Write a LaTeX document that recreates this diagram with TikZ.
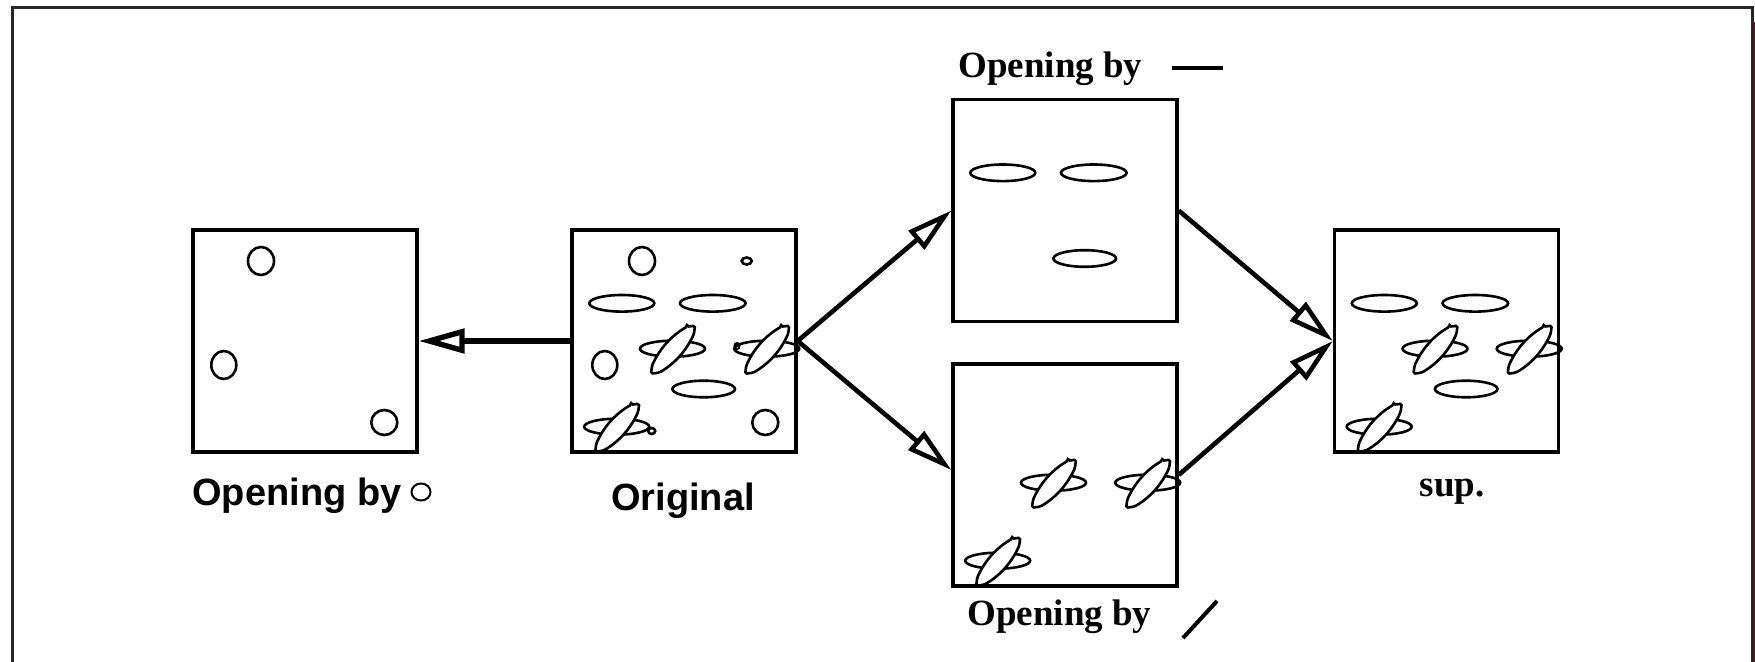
\documentclass[tikz,border=0pt]{standalone}
\usepackage{fontspec}
\setmainfont{Liberation Serif}
\setsansfont{Liberation Sans}
\usetikzlibrary{arrows.meta}

% round grains of the source image
\newcommand\roundgrains{%
  \draw[grain] (642,261) ellipse [x radius=13, y radius=14];
  \draw[grain] (604.8,365) ellipse [x radius=12.5, y radius=14];
  \draw[grain] (765.3,422.5) ellipse [x radius=13, y radius=12.5];}
% flat horizontal grains
\newcommand\flatgrains{%
  \draw[grain] (621.8,303.3) ellipse [x radius=32.5, y radius=8.3];
  \draw[grain] (712.8,303.3) ellipse [x radius=32.8, y radius=8.3];
  \draw[grain] (703.7,389) ellipse [x radius=31.3, y radius=8.3];}
% a flat grain crossed by a slanted needle, centred at (#1,#2)
\newcommand\needlegrain[2]{%
  \draw[grain] (#1,#2) ellipse [x radius=32.5, y radius=8];
  \begin{scope}[shift={(#1+0.5,#2+1)}]
    \draw[needle] (14,-23) -- (22,-24) -- (21,-16)
      .. controls (13.3,1) and (1.7,14) .. (-14,23) -- (-22,24) -- (-21,16)
      .. controls (-13.3,-1) and (-1.7,-14) .. (14,-23) -- cycle;
  \end{scope}}
\newcommand\crossgrains{%
  \needlegrain{672.5}{348.7}\needlegrain{766.7}{348.7}\needlegrain{616.7}{426.7}}

\begin{document}
\begin{tikzpicture}[x=0.5pt,y=-0.5pt,
  panel/.style={draw, line width=1.65pt, minimum width=112pt,
    minimum height=111pt, inner sep=0pt},
  grain/.style={draw, line width=1.3pt},
  needle/.style={draw, fill=white, line width=1.3pt, rounded corners=0.8pt},
  flow/.style={line width=2.3pt,
    -{Triangle[length=23pt, width=12pt, fill=white]}},
  sanslab/.style={font=\sffamily\bfseries\fontsize{19}{22}\selectfont,
    inner sep=0pt},
  seriflab/.style={font=\rmfamily\bfseries\fontsize{18.5}{22}\selectfont,
    inner sep=0pt}]
\useasboundingbox (0,0) rectangle (1755,662);

% outer frame
\draw[line width=1.5pt, black!85] (12,680) -- (12,8) -- (1752,8) -- (1752,680);
\draw[line width=0.8pt, color={rgb,255:red,150;green,0;blue,30}]
  (1754.4,22) -- (1754.4,662);

% panels
\node[panel] (b1) at (305,341) {};
\node[panel] (b2) at (684,341) {};
\node[panel] (b3) at (1065,210.5) {};
\node[panel] (b4) at (1065,475) {};
\node[panel] (b5) at (1446.5,341) {};

% contents: opening by a disc
\begin{scope}[shift={(-381,0)}]
  \roundgrains
\end{scope}
% contents: original image
\roundgrains
\flatgrains
\crossgrains
\draw[grain] (746.7,261) ellipse [x radius=5, y radius=3.5];
\draw[grain] (651.7,431) ellipse [x radius=3.5, y radius=3];
\draw[grain, line width=1pt] (737,346) ellipse [x radius=2.5, y radius=3];
% contents: opening by a horizontal segment
\begin{scope}[shift={(381,-130.5)}]
  \flatgrains
\end{scope}
% contents: opening by a slanted segment
\begin{scope}[shift={(381,134)}]
  \crossgrains
\end{scope}
% contents: supremum
\begin{scope}[shift={(762.5,0)}]
  \flatgrains
  \crossgrains
\end{scope}

% labels
\node[sanslab, anchor=base west] (lcirc) at (192,505) {Opening by};
\draw[line width=1pt] (421,492) ellipse [x radius=9.5, y radius=8.5];
\node[sanslab, anchor=base] (lorig) at (683,510) {Original};
\node[seriflab, anchor=base west] (lhor) at (958,78) {Opening by};
\draw[line width=2pt] (1172,68) -- (1223,68);
\node[seriflab, anchor=base west] (ldiag) at (967,625) {Opening by};
\draw[line width=2pt] (1183,638) -- (1217,601);
\node[seriflab, anchor=base] (lsup) at (1452,496) {sup.};

% flow between panels
\draw[flow, line width=2.7pt] (b2.west) -- (b1.east);
\draw[flow] (b2.east) -- (b3.west);
\draw[flow] (b2.east) -- ([yshift=2.5pt]b4.west);
\draw[flow] (b3.east) -- (b5.west);
\draw[flow] (b4.east) -- (b5.west);
\end{tikzpicture}
\end{document}
